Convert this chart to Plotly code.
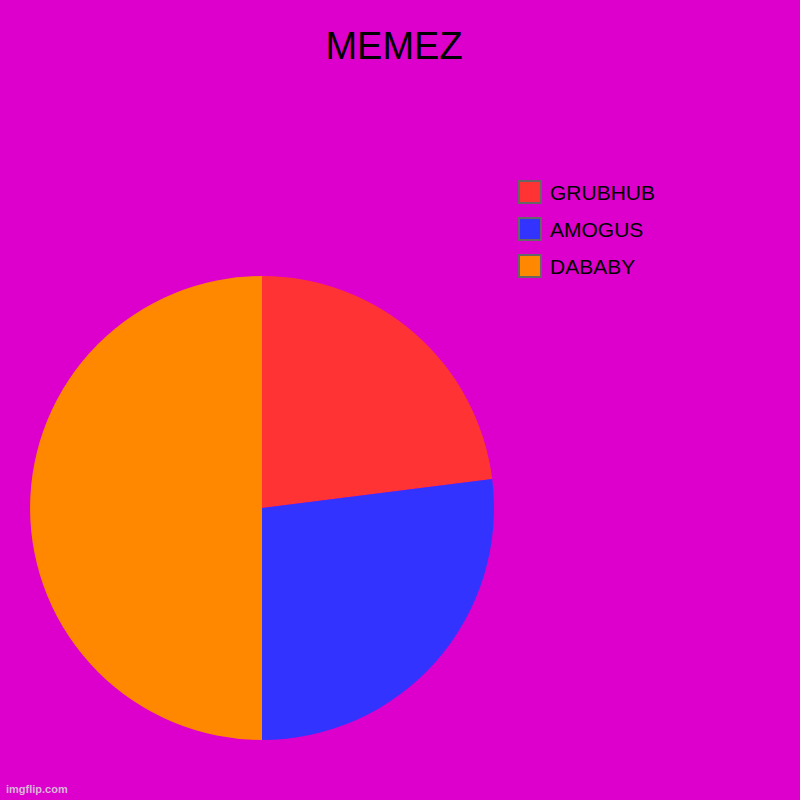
import plotly.graph_objects as go

labels = ["GRUBHUB", "AMOGUS", "DABABY"]
values = [23, 27, 50]
colors = ["#FF3333", "#3333FF", "#FF8800"]

bg = "#DD00CC"
font = "Liberation Sans, Arial, sans-serif"

pie = go.Pie(
    labels=labels,
    values=values,
    marker=dict(colors=colors, line=dict(width=0)),
    sort=False,
    direction="clockwise",
    rotation=0,
    textinfo="none",
    hoverinfo="label+value+percent",
    showlegend=False,
    domain=dict(x=[0.0375, 0.6175], y=[0.075, 0.655]),
)

fig = go.Figure(data=[pie])

# hand-made legend so the swatches get the grey border and size of the original
shapes = []
annotations = []
for i, (lab, col) in enumerate(zip(labels, colors)):
    yc = 1 - (192 + 37 * i) / 800
    shapes.append(dict(
        type="rect", xref="paper", yref="paper",
        x0=519 / 800, x1=541 / 800, y0=yc - 11 / 800, y1=yc + 11 / 800,
        fillcolor=col, line=dict(color="#666666", width=2),
    ))
    annotations.append(dict(
        text=lab, xref="paper", yref="paper", x=548 / 800, y=yc,
        xanchor="left", yanchor="middle", showarrow=False,
        font=dict(family=font, size=21, color="#000000"),
    ))

annotations.append(dict(
    text="<b>imgflip.com</b>", xref="paper", yref="paper", x=4 / 800, y=3 / 800,
    xanchor="left", yanchor="bottom", showarrow=False,
    font=dict(family=font, size=11, color="#D8B8D8"),
))

fig.update_layout(
    width=800,
    height=800,
    paper_bgcolor=bg,
    plot_bgcolor=bg,
    margin=dict(l=0, r=0, t=0, b=0),
    title=dict(
        text="MEMEZ",
        x=394 / 800,
        xanchor="center",
        y=1 - 46 / 800,
        yanchor="middle",
        font=dict(family=font, size=38, color="#000000"),
    ),
    shapes=shapes,
    annotations=annotations,
)

# drop the page's default body margin so the 800x800 figure fills the window
fig.write_html(
    "out.html",
    config={"displayModeBar": False},
    post_script="document.body.style.margin='0';document.body.style.overflow='hidden';",
)
